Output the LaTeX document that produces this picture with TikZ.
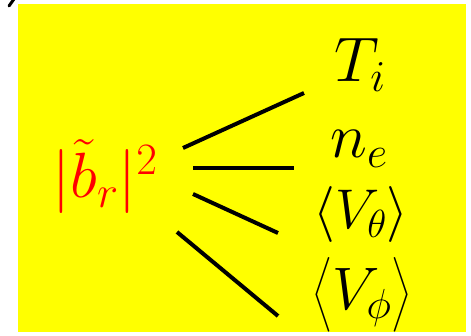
\RequirePackage{fix-cm}
\documentclass[tikz,border=0pt]{standalone}
\usepackage{amsmath}
\definecolor{bgyellow}{RGB}{255,255,0}
\definecolor{lblred}{RGB}{255,0,0}
\begin{document}
\begin{tikzpicture}[x=1pt,y=-1pt,
  link/.style={line width=4pt,black},
  lbl/.style={inner sep=0pt,anchor=base,font=\fontsize{56}{60}\selectfont},
  biglbl/.style={inner sep=0pt,anchor=base,font=\fontsize{63}{66}\selectfont},
  redlbl/.style={inner sep=0pt,anchor=base,text=lblred,font=\fontsize{64}{68}\selectfont}]
\useasboundingbox (0,0) rectangle (471,336);
\fill[bgyellow] (18,4) rectangle (466,332);
% cut-off glyph fragment at top-left
\begin{scope}
\clip (0,0) rectangle (30,20);
\draw[line width=3pt,line cap=round] (9,6) -- (14,-1);
\end{scope}
\node[redlbl] (src) at (105,198) {$\lvert\tilde{b}_r\rvert^2$};
\node[biglbl] (ti) at (360,82) {$T_i$};
\node[biglbl] (ne) at (359,158) {$n_e$};
\node[lbl] (vt) at (361,229) {$\langle V_\theta\rangle$};
\node[lbl,font=\fontsize{60}{64}\selectfont] (vp) at (362,310) {$\bigl\langle V_\phi\bigr\rangle$};
\coordinate (a1) at (183,148); \coordinate (b1) at (304,93);
\coordinate (a2) at (193,168); \coordinate (b2) at (294,168);
\coordinate (a3) at (193,194); \coordinate (b3) at (278,233);
\coordinate (a4) at (177,232); \coordinate (b4) at (278,316);
\draw[link] (a1) -- (b1);
\draw[link] (a2) -- (b2);
\draw[link] (a3) -- (b3);
\draw[link] (a4) -- (b4);
\end{tikzpicture}
\end{document}
